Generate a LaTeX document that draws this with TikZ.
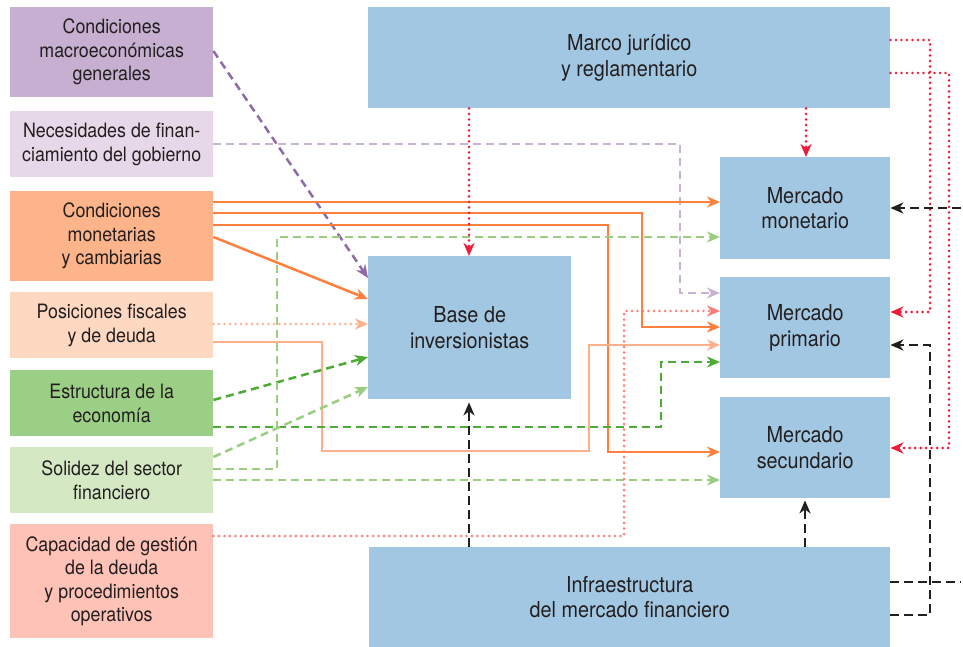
\documentclass[tikz,border=0pt]{standalone}
\usepackage{fontspec}
\setmainfont{TeX Gyre Heros}[FakeStretch=0.9]
\usetikzlibrary{arrows.meta}
\definecolor{txt}{HTML}{231F20}
\definecolor{cBlue}{HTML}{A2C7E2}
\definecolor{cMacro}{HTML}{C6AFD0}
\definecolor{cNec}{HTML}{E6D8E8}
\definecolor{cMon}{HTML}{FDB48A}
\definecolor{cFis}{HTML}{FFD8C2}
\definecolor{cEst}{HTML}{9CCF86}
\definecolor{cSol}{HTML}{D4E8C4}
\definecolor{cCap}{HTML}{FFC2B6}
\definecolor{lPurple}{HTML}{8E6BA8}
\definecolor{lLilac}{HTML}{C9B3D3}
\definecolor{lOrange}{HTML}{FF7F3F}
\definecolor{lPeach}{HTML}{FFB08A}
\definecolor{lGreen}{HTML}{4DAA35}
\definecolor{lLgreen}{HTML}{9ACD80}
\definecolor{lPink}{HTML}{FF7B74}
\definecolor{lRed}{HTML}{EE1C3A}
\definecolor{lBlack}{HTML}{231F20}
\begin{document}
\begin{tikzpicture}[x=1pt,y=-1pt,
  box/.style={inner sep=0pt, align=center, text=txt, anchor=north west,
    font=\fontsize{19.8}{23.5}\selectfont},
  bbox/.style={box, fill=cBlue, font=\fontsize{22}{25.5}\selectfont},
  tip/.style={-{Stealth[length=13pt,width=11pt,inset=4pt]}},
  solidline/.style={tip, line width=2.5pt},
  dashline/.style={tip, line width=2.5pt, dash pattern=on 8pt off 5pt},
  dotline/.style={tip, line width=2.8pt, line cap=round, dash pattern=on 0pt off 5.5pt},
  blackdash/.style={tip, line width=2.5pt, dash pattern=on 9pt off 5pt, draw=lBlack, color=lBlack}]
\useasboundingbox (0,0) rectangle (963,647);
% left boxes
\node[box,fill=cMacro,minimum width=203pt,minimum height=90pt] (macro) at (10,7) {Condiciones\\macroeconómicas\\generales};
\node[box,fill=cNec,minimum width=203pt,minimum height=66pt] (nec) at (10,111) {Necesidades de finan-\\ciamiento del gobierno};
\node[box,fill=cMon,minimum width=203pt,minimum height=90pt] (mon) at (10,191) {Condiciones\\monetarias\\y cambiarias};
\node[box,fill=cFis,minimum width=203pt,minimum height=66pt] (fis) at (10,292) {Posiciones fiscales\\y de deuda};
\node[box,fill=cEst,minimum width=203pt,minimum height=66pt] (est) at (10,370) {Estructura de la\\economía};
\node[box,fill=cSol,minimum width=203pt,minimum height=66pt] (sol) at (10,447) {Solidez del sector\\financiero};
\node[box,fill=cCap,minimum width=203pt,minimum height=114pt] (cap) at (10,524) {Capacidad de gestión\\de la deuda\\y procedimientos\\operativos};
% blue boxes
\node[bbox,minimum width=522pt,minimum height=101pt] (marco) at (368,7) {Marco jurídico\\y reglamentario};
\node[bbox,minimum width=203pt,minimum height=143pt] (base) at (368,256) {Base de\\inversionistas};
\node[bbox,minimum width=170pt,minimum height=102pt] (mm) at (720,157) {Mercado\\monetario};
\node[bbox,minimum width=170pt,minimum height=101pt] (prim) at (720,277) {Mercado\\primario};
\node[bbox,minimum width=170pt,minimum height=101pt] (sec) at (720,397) {Mercado\\secundario};
\node[bbox,minimum width=521pt,minimum height=100pt] (infra) at (369,547) {Infraestructura\\del mercado financiero};
\coordinate (edgeA) at (961,208);
\coordinate (edgeB) at (961,582);
% purple
\draw[dashline,draw=lPurple,color=lPurple] (macro.east |- 0,51) -- (base.west |- 0,278);
\draw[dashline,draw=lLilac,color=lLilac] (nec.east |- 0,144) -- (680,144) |- (prim.west |- 0,293);
% orange
\draw[solidline,draw=lOrange,color=lOrange] (mon.east |- 0,202) -- (mm.west |- 0,202);
\draw[solidline,draw=lOrange,color=lOrange] (mon.east |- 0,213) -- (642,213) |- (prim.west |- 0,327);
\draw[solidline,draw=lOrange,color=lOrange] (mon.east |- 0,225) -- (608,225) |- (sec.west |- 0,452);
\draw[solidline,draw=lOrange,color=lOrange] (mon.east |- 0,237) -- (base.west |- 0,299);
% peach
\draw[dotline,draw=lPeach,color=lPeach] (fis.east |- 0,324) -- (base.west |- 0,324);
\draw[solidline,draw=lPeach,color=lPeach] (fis.east |- 0,342) -| (322,451) -| (589,345) -- (prim.west |- 0,345);
% green
\draw[dashline,draw=lGreen,color=lGreen] (est.east |- 0,400) -- (base.west |- 0,357);
\draw[dashline,draw=lGreen,color=lGreen] (est.east |- 0,427) -| (661,362) -- (prim.west |- 0,362);
% light green
\draw[dashline,draw=lLgreen,color=lLgreen] (sol.east |- 0,469) -| (277,237) -- (mm.west |- 0,237);
\draw[dashline,draw=lLgreen,color=lLgreen] (sol.east |- 0,457) -- (base.west |- 0,387);
\draw[dashline,draw=lLgreen,color=lLgreen] (sol.east |- 0,480) -- (sec.west |- 0,480);
% pink
\draw[dotline,draw=lPink,color=lPink] (cap.east |- 0,536) -| (624,311) -- (prim.west |- 0,311);
% red
\draw[dotline,draw=lRed,color=lRed] (marco.south -| 469,0) -- (base.north -| 469,0);
\draw[dotline,draw=lRed,color=lRed] (marco.south -| 806,0) -- (mm.north -| 806,0);
\draw[dotline,draw=lRed,color=lRed] (marco.east |- 0,40) -| (930,312) -- (prim.east |- 0,312);
\draw[dotline,draw=lRed,color=lRed] (marco.east |- 0,73) -| (949,448) -- (sec.east |- 0,448);
% black
\draw[blackdash] (edgeA) -- (mm.east |- 0,208);
\draw[blackdash,-] (infra.east |- 0,582) -- (edgeB);
\draw[blackdash] (infra.east |- 0,615) -| (930,345) -- (prim.east |- 0,345);
\draw[blackdash,shorten >=3pt] (infra.north -| 469,0) -- (base.south -| 469,0);
\draw[blackdash,shorten >=2pt] (infra.north -| 805,0) -- (sec.south -| 805,0);
\end{tikzpicture}
\end{document}
